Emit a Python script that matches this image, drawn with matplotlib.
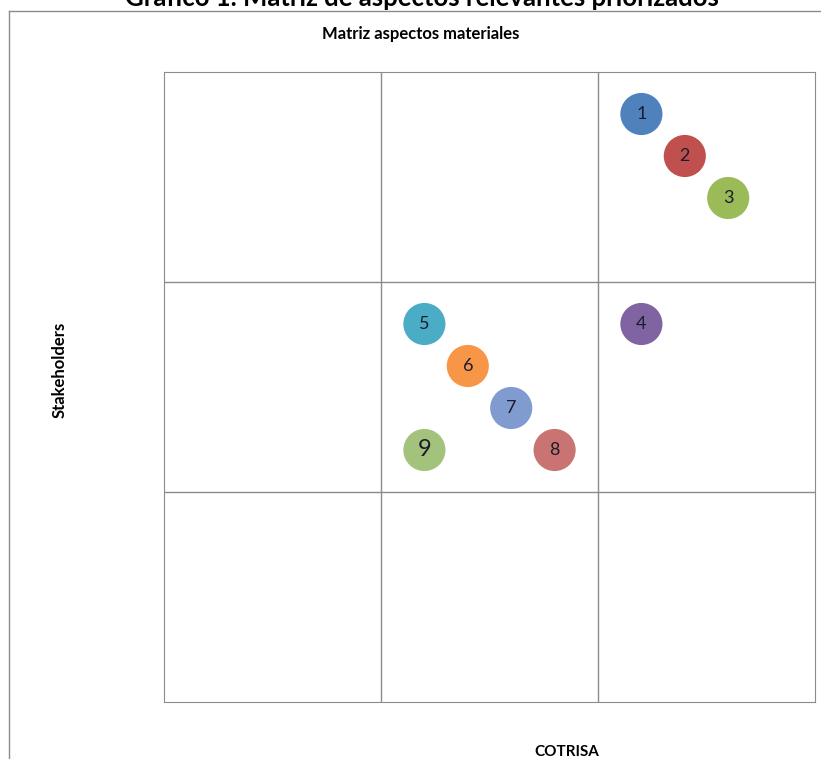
import matplotlib.pyplot as plt
from matplotlib.lines import Line2D

labels = ['1', '2', '3', '4', '5', '6', '7', '8', '9']
cotrisa = [2.2, 2.4, 2.6, 2.2, 1.2, 1.4, 1.6, 1.8, 1.2]
stakeholders = [2.8, 2.6, 2.4, 1.8, 1.8, 1.6, 1.4, 1.2, 1.2]
colors = ['#4F81BD', '#C0504D', '#9BBB59', '#8064A2', '#4BACC6',
          '#F79646', '#7F9BCF', '#C97472', '#A3C27C']

plt.rcParams['font.family'] = ['Lato', 'DejaVu Sans']

fig = plt.figure(figsize=(8.21, 7.59), dpi=100)
W, H = 821, 759

# outer chart frame (left and top edges visible)
fig.add_artist(Line2D([9 / W, 9 / W], [0, 1 - 11 / H], color='#8c8c8c', lw=1))
fig.add_artist(Line2D([9 / W, 1], [1 - 11 / H, 1 - 11 / H], color='#8c8c8c', lw=1))

fig.text(422 / W, 1 - 6 / H, 'Gráfico 1. Matriz de aspectos relevantes priorizados',
         ha='center', va='baseline', fontsize=18.5, fontweight='bold')
fig.text(421 / W, 1 - 34 / H, 'Matriz aspectos materiales',
         ha='center', va='center', fontsize=12, fontweight='bold')

ax = fig.add_axes([164 / W, 1 - 702 / H, (815 - 164) / W, (702 - 72) / H])
ax.set_xlim(0, 3)
ax.set_ylim(0, 3)
for v in [1, 2]:
    ax.axvline(v, color='#8c8c8c', lw=1)
    ax.axhline(v, color='#8c8c8c', lw=1)
for s in ax.spines.values():
    s.set_color('#8c8c8c')
ax.set_xticks([])
ax.set_yticks([])

ax.scatter(cotrisa, stakeholders, s=920, c=colors, zorder=3, linewidths=0)
for lab, x, y in zip(labels, cotrisa, stakeholders):
    size = 17 if lab == '9' else 13
    ax.text(x, y, lab, ha='center', va='center', fontsize=size,
            color='#1c1c2e', zorder=4)

fig.text(567 / W, 1 - 752 / H, 'COTRISA', ha='center', va='center',
         fontsize=11, fontweight='bold')
fig.text(60 / W, 1 - 370 / H, 'Stakeholders', ha='center', va='center',
         rotation=90, fontsize=12, fontweight='bold')

fig.savefig('out.png', dpi=100)
